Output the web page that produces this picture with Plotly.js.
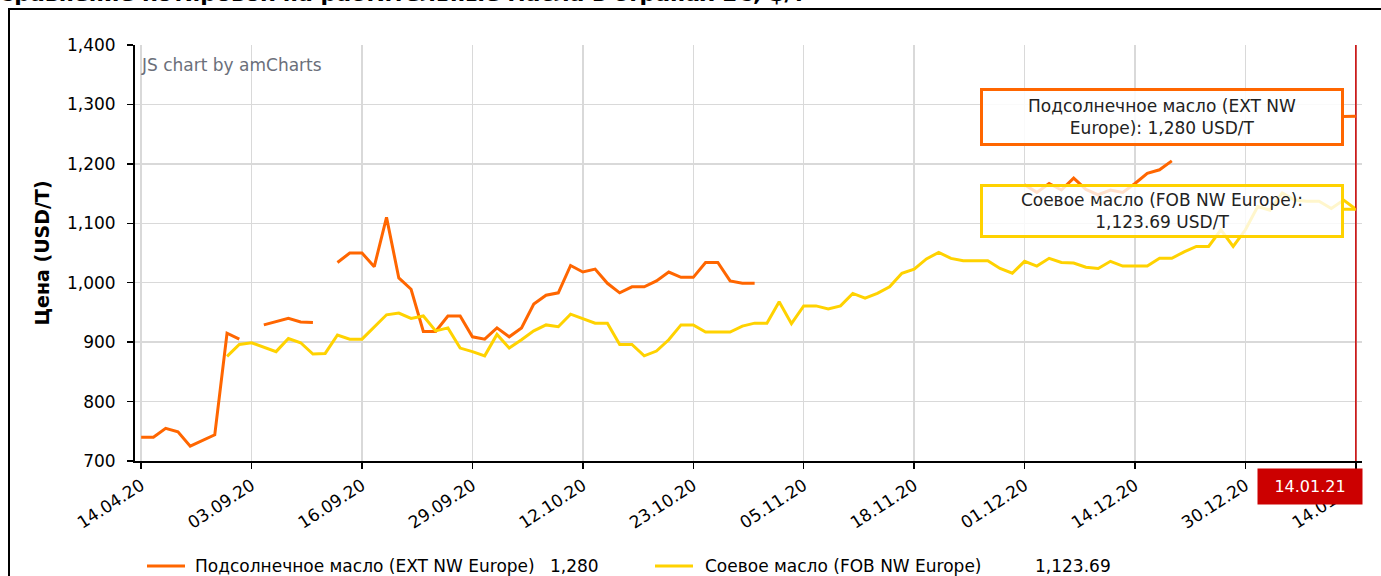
<!DOCTYPE html>
<html>
<head>
<meta charset="utf-8">
<script src="https://cdn.plot.ly/plotly-3.0.1.min.js"></script>
<style>
  html, body { margin: 0; padding: 0; background: #fff; }
  #chart { width: 1381px; height: 576px; }
</style>
</head>
<body>
<div id="chart"></div>
<script>
// ---- data ----
const dates = [
  '14.04.20','15.04.20','16.04.20','17.04.20','20.04.20','21.04.20','22.04.20','01.09.20','02.09.20',
  '03.09.20','04.09.20','07.09.20','08.09.20','09.09.20','10.09.20','11.09.20','14.09.20','15.09.20',
  '16.09.20','17.09.20','18.09.20','21.09.20','22.09.20','23.09.20','24.09.20','25.09.20','28.09.20',
  '29.09.20','30.09.20','01.10.20','02.10.20','05.10.20','06.10.20','07.10.20','08.10.20','09.10.20',
  '12.10.20','13.10.20','14.10.20','15.10.20','16.10.20','19.10.20','20.10.20','21.10.20','22.10.20',
  '23.10.20','26.10.20','27.10.20','28.10.20','29.10.20','30.10.20','02.11.20','03.11.20','04.11.20',
  '05.11.20','06.11.20','09.11.20','10.11.20','11.11.20','12.11.20','13.11.20','16.11.20','17.11.20',
  '18.11.20','19.11.20','20.11.20','23.11.20','24.11.20','25.11.20','26.11.20','27.11.20','30.11.20',
  '01.12.20','02.12.20','03.12.20','04.12.20','07.12.20','08.12.20','09.12.20','10.12.20','11.12.20',
  '14.12.20','15.12.20','16.12.20','17.12.20','18.12.20','21.12.20','22.12.20','23.12.20','29.12.20',
  '30.12.20','04.01.21','05.01.21','06.01.21','07.01.21','08.01.21','11.01.21','12.01.21','13.01.21',
  '14.01.21'
];

const tickLabels = ['14.04.20','03.09.20','16.09.20','29.09.20','12.10.20','23.10.20',
                    '05.11.20','18.11.20','01.12.20','14.12.20','30.12.20','14.01.21'];

const sunflower = [
  740, 740, 755, 749, 725, 735, 744, 915, 905,
  null, 929, 934, 940, 934, 933, null, 1034, 1050,
  1050, 1027, 1110, 1008, 989, 918, 918, 944, 944,
  909, 905, 924, 909, 924, 964, 979, 983, 1029,
  1018, 1023, 999, 983, 993, 993, 1003, 1018, 1009,
  1009, 1034, 1034, 1003, 999, 999, null, null, null,
  null, null, null, null, null, null, null, null, null,
  null, null, null, null, null, null, null, null, null,
  1165, 1152, 1167, 1156, 1176, 1157, 1148, 1156, 1152,
  1167, 1184, 1190, 1205, null, null, null, null, null,
  null, null, null, null, null, null, null, null, null,
  1280
];

const soybean = [
  null, null, null, null, null, null, null, 876, 896,
  899, 892, 884, 906, 899, 880, 881, 912, 905,
  905, 926, 946, 949, 940, 944, 919, 924, 890,
  884, 877, 913, 890, 904, 919, 929, 926, 947,
  939, 932, 932, 896, 896, 877, 885, 904, 929,
  929, 917, 917, 917, 927, 932, 932, 968, 931,
  961, 961, 956, 961, 982, 974, 982, 993, 1016,
  1023, 1040, 1051, 1041, 1037, 1037, 1037, 1024, 1016,
  1036, 1028, 1041, 1034, 1033, 1026, 1024, 1036, 1028,
  1028, 1028, 1041, 1041, 1052, 1061, 1061, 1089, 1061,
  1089, 1128, 1122, 1151, 1139, 1137, 1137, 1125, 1139,
  1123.69
];

const seriesNames = ['Подсолнечное масло (EXT NW Europe)', 'Соевое масло (FOB NW Europe)'];
const balloonText = ['Подсолнечное масло (EXT NW<br>Europe): ', 'Соевое масло (FOB NW Europe):<br>'];
const chartTitle = 'Сравнение котировок на растительные масла в странах ЕС, $/т';
const yTitle = 'Цена (USD/T)';
const unit = 'USD/T';
const credit = 'JS chart by amCharts';

// ---- build ----
const FONT = 'DejaVu Sans, Verdana, sans-serif';
const ORANGE = '#ff6600';
const YELLOW = '#ffd200';
const W = 1381, H = 576, ML = 135, MR = 19, MT = 45, MB = 115;
const PW = W - ML - MR, PH = H - MT - MB;
const px = x => (x - ML) / PW;           // page pixel -> paper x
const py = y => (H - MB - y) / PH;       // page pixel -> paper y
const last = dates.length - 1;
const fmt = v => v.toLocaleString('en-US', {maximumFractionDigits: 2});
const colors = [ORANGE, YELLOW];
const seriesData = [sunflower, soybean];

const traces = seriesData.map((d, i) => ({
  x: dates, y: d, type: 'scatter', mode: 'lines', name: seriesNames[i],
  line: {color: colors[i], width: 3}, connectgaps: false, showlegend: false
}));

// legend (drawn as shapes + text)
const legendRow = 566;
const legendItems = [
  {sym: 147, txt: 193, val: 548},
  {sym: 655, txt: 703, val: 1033}
];
const legendShapes = legendItems.map((it, i) => ({
  type: 'line', xref: 'paper', yref: 'paper',
  x0: px(it.sym), x1: px(it.sym + 38), y0: py(legendRow), y1: py(legendRow),
  line: {color: colors[i], width: 3}
}));
const legendAnns = [];
legendItems.forEach((it, i) => {
  legendAnns.push({text: seriesNames[i], xref: 'paper', yref: 'paper', x: px(it.txt), y: py(legendRow),
    xanchor: 'left', yanchor: 'middle', showarrow: false, font: {family: FONT, size: 17, color: '#000'}});
  legendAnns.push({text: fmt(seriesData[i][last]), xref: 'paper', yref: 'paper', x: px(it.val), y: py(legendRow),
    xanchor: 'left', yanchor: 'middle', showarrow: false, font: {family: FONT, size: 17, color: '#000'}});
});

const balloonAnns = seriesData.map((d, i) => ({
  text: balloonText[i] + fmt(d[last]) + ' ' + unit,
  x: dates[last], y: d[last], xref: 'x', yref: 'y',
  showarrow: true, ax: -194, ay: i === 0 ? 1 : 2, arrowhead: 0, arrowwidth: 3, arrowcolor: colors[i],
  bordercolor: colors[i], borderwidth: 3, borderpad: 0,
  bgcolor: i === 0 ? 'rgba(255,255,255,0.85)' : 'rgba(255,255,255,0.8)',
  width: 358, height: i === 0 ? 52 : 48, align: 'center',
  font: {family: FONT, size: 17, color: '#222'}
}));

const layout = {
  width: W, height: H,
  margin: {l: ML, r: MR, t: MT, b: MB},
  paper_bgcolor: '#fff', plot_bgcolor: '#fff',
  font: {family: FONT, size: 17, color: '#000'},
  hovermode: false,
  showlegend: false,
  xaxis: {
    type: 'category',
    range: [-0.5, last + 0.5],
    tickmode: 'array', tickvals: tickLabels, ticktext: tickLabels,
    tickangle: -33,
    ticks: 'outside', ticklen: 6, tickwidth: 1.5, tickcolor: '#000',
    showline: true, linecolor: '#000', linewidth: 2,
    showgrid: true, gridcolor: '#d9d9d9', gridwidth: 1.5,
    zeroline: false, automargin: false,
    tickfont: {family: FONT, size: 17, color: '#000'},
    fixedrange: true
  },
  yaxis: {
    range: [700, 1400], dtick: 100, tick0: 700,
    tickformat: ',d',
    ticks: 'outside', ticklen: 6, tickwidth: 1.5, tickcolor: '#000',
    ticklabelstandoff: 8,
    showline: true, linecolor: '#000', linewidth: 2,
    showgrid: true, gridcolor: '#d9d9d9', gridwidth: 1.5,
    zeroline: false, automargin: false,
    tickfont: {family: FONT, size: 17, color: '#000'},
    title: {text: '<b>' + yTitle + '</b>', font: {family: FONT, size: 19, color: '#000'}, standoff: 12},
    fixedrange: true
  },
  shapes: [
    // outer frame
    {type: 'rect', xref: 'paper', yref: 'paper', x0: px(9), x1: px(1400), y0: py(600), y1: py(9),
     line: {color: '#000', width: 2}, fillcolor: 'rgba(0,0,0,0)', layer: 'below'},
    // cursor line
    {type: 'line', xref: 'x', yref: 'paper', x0: last, x1: last, y0: 0, y1: 1,
     line: {color: '#cc0000', width: 1.5}},
    // cursor pointer triangle
    {type: 'path', xref: 'x', yref: 'y', xsizemode: 'pixel', ysizemode: 'pixel',
     xanchor: last, yanchor: 700, path: 'M -7 -8 L 0 0 L 7 -8 Z',
     fillcolor: '#cc0000', line: {color: '#cc0000', width: 0}}
  ].concat(legendShapes),
  annotations: [
    // cut-off page title
    {text: '<b>' + chartTitle + '</b>', xref: 'paper', yref: 'paper',
     x: px(-4), y: py(8), xanchor: 'left', yanchor: 'bottom', showarrow: false,
     font: {family: FONT, size: 22, color: '#000'}},
    // amCharts credit
    {text: credit, xref: 'paper', yref: 'paper',
     x: px(139), y: py(53), xanchor: 'left', yanchor: 'top', showarrow: false,
     font: {family: FONT, size: 17, color: '#6b6f7a'}},
    // category balloon
    {text: dates[last], x: dates[last], y: 0, xref: 'x', yref: 'paper',
     xanchor: 'right', yanchor: 'top', xshift: 7, yshift: -7, showarrow: false,
     bgcolor: '#cc0000', borderpad: 0, width: 104, height: 35,
     font: {family: FONT, size: 16, color: '#fff'}}
  ].concat(balloonAnns, legendAnns)
};

Plotly.newPlot('chart', traces, layout, {displayModeBar: false, staticPlot: true});
</script>
</body>
</html>
